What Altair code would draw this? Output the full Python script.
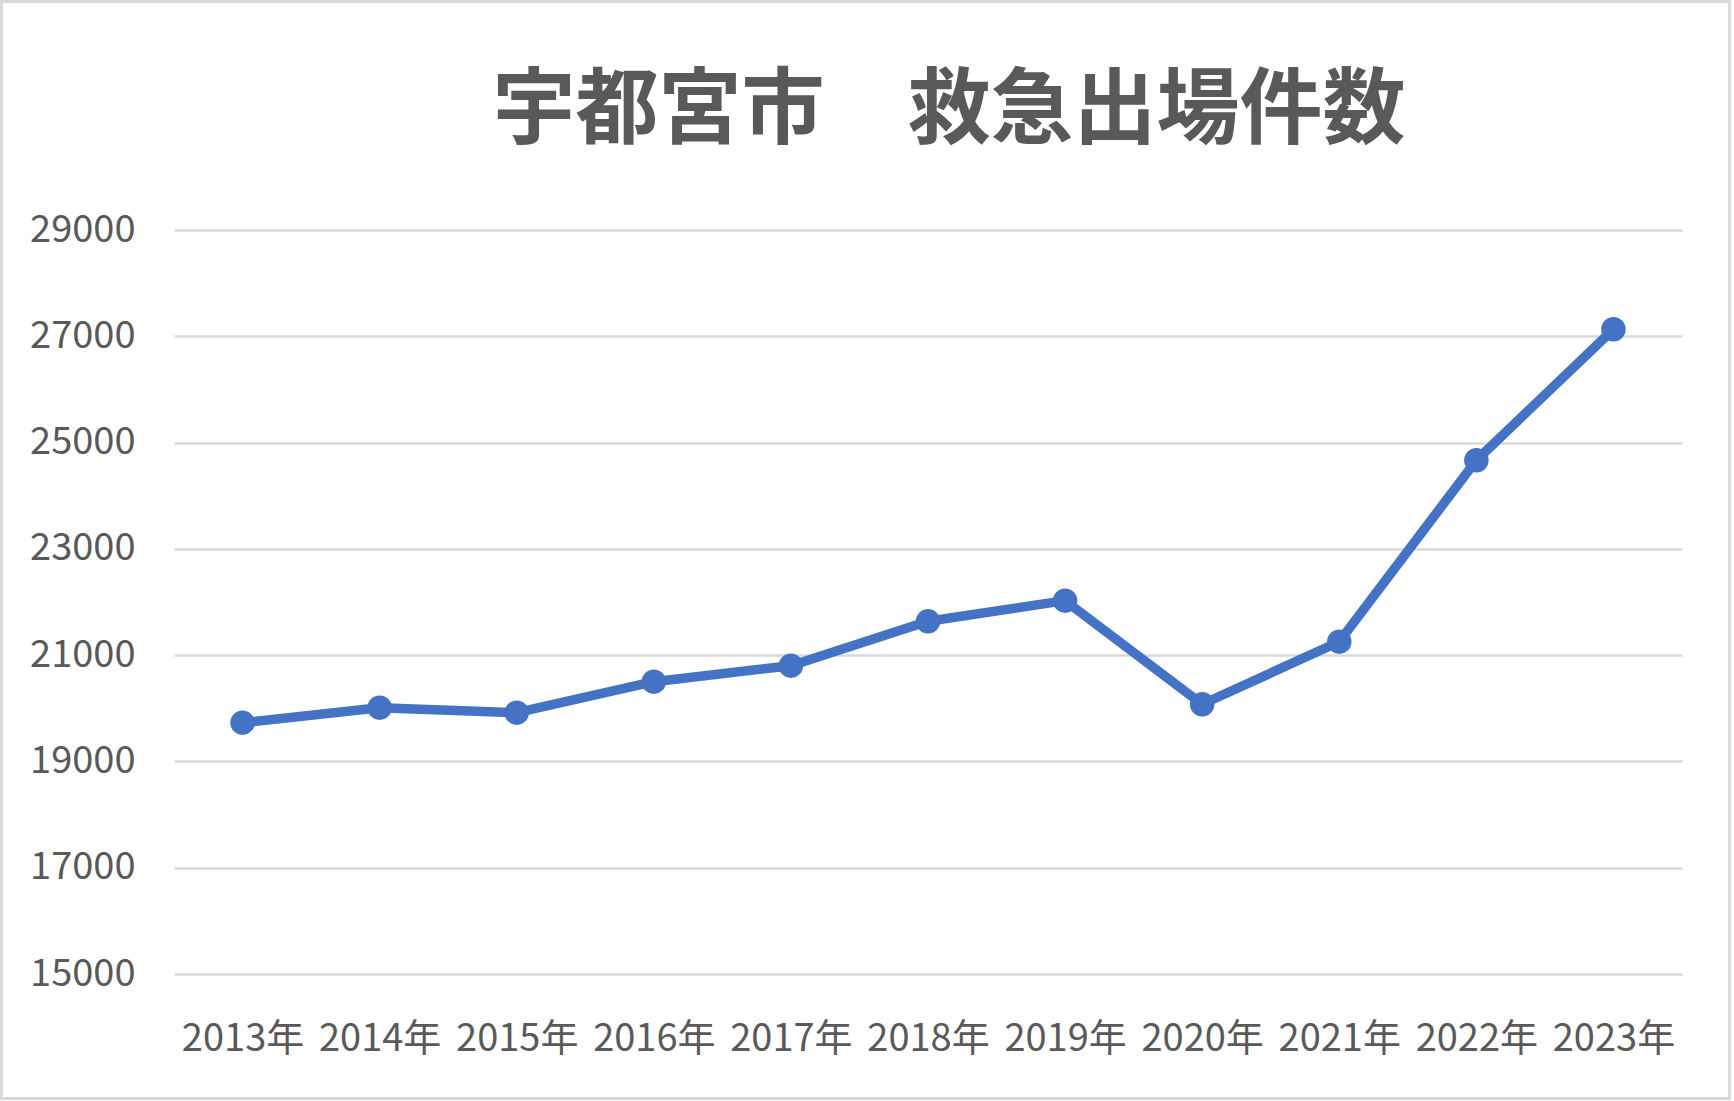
import altair as alt
import pandas as pd

years = ["2013年", "2014年", "2015年", "2016年", "2017年", "2018年",
         "2019年", "2020年", "2021年", "2022年", "2023年"]
counts = [19729, 20011, 19917, 20501, 20802, 21637, 22025, 20075, 21253, 24667, 27132]
y_ticks = [15000, 17000, 19000, 21000, 23000, 25000, 27000, 29000]
title_text = ["宇都宮市　救急出場件数"]

FONT = "Noto Sans CJK JP"
GREY = "#595959"
BLUE = "#4472C4"

df = pd.DataFrame({"year": years, "count": counts})

x_enc = alt.X(
    "year:N", sort=years,
    scale=alt.Scale(type="point", padding=0.5),
    axis=alt.Axis(title=None, labelAngle=0, labelFontSize=38, labelFont=FONT,
                  labelColor=GREY, labelPadding=46, ticks=False, domain=False,
                  grid=False),
)
y_enc = alt.Y(
    "count:Q",
    scale=alt.Scale(domain=[15000, 29000], nice=False, zero=False),
    axis=alt.Axis(title=None, values=y_ticks, format="d", labelFontSize=38,
                  labelFont=FONT, labelColor=GREY, labelPadding=39, ticks=False,
                  domain=False, grid=True, gridColor="#D9D9D9", gridWidth=2.5),
)

base = alt.Chart(df).encode(x=x_enc, y=y_enc)

line = base.mark_line(color=BLUE, strokeWidth=9.5, strokeJoin="round", strokeCap="round")
pts = base.mark_circle(color=BLUE, size=600, opacity=1)

frame = alt.Chart(pd.DataFrame({"a": [0]})).mark_rect(
    fill=None, stroke="#D9D9D9", strokeWidth=3
).encode(
    x=alt.value(-172.5), x2=alt.value(1555.5),
    y=alt.value(-228.5), y2=alt.value(868.5),
)

title = alt.Chart(pd.DataFrame({"t": title_text})).mark_text(
    font=FONT, fontSize=83, fontWeight="bold", color=GREY,
    align="center", baseline="alphabetic"
).encode(
    text="t:N", x=alt.value(775), y=alt.value(-93),
)

chart = alt.layer(frame, line, pts, title).properties(
    width=1508, height=744,
    padding={"left": 174, "top": 230, "right": 52, "bottom": 127},
    autosize=alt.AutoSizeParams(type="none"),
    background="white",
).configure_view(stroke=None)

chart.save("out.html", embed_options={"renderer": "svg", "actions": False})
